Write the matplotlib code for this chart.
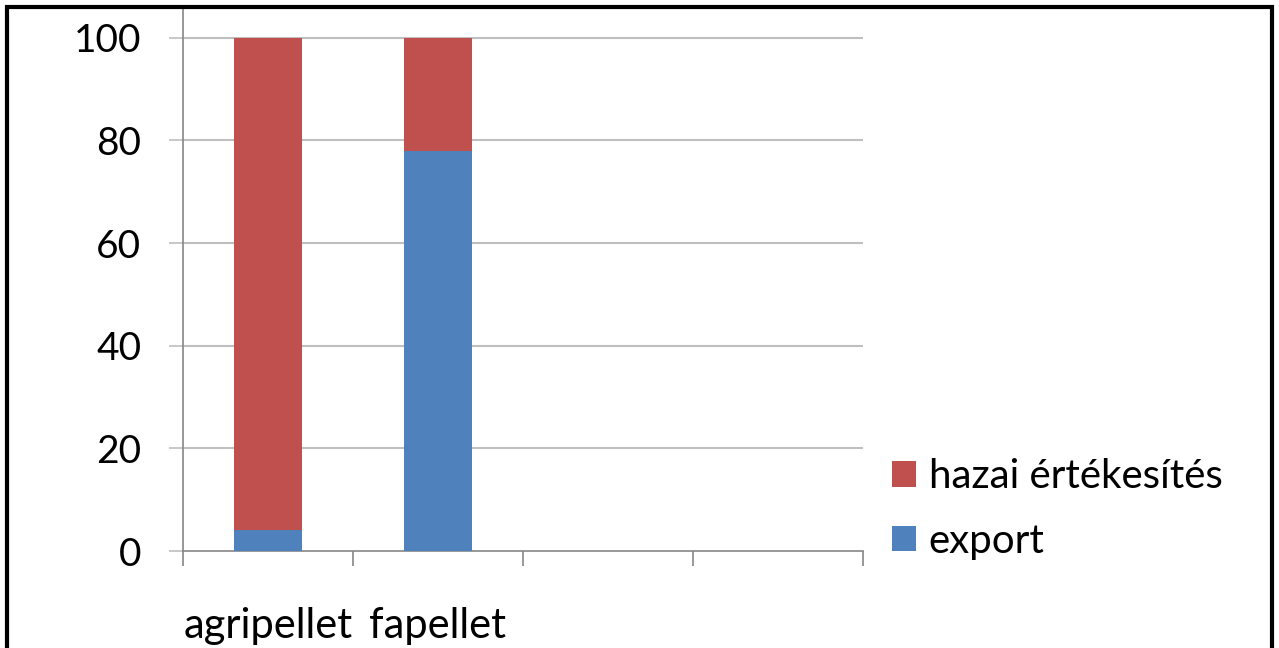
import numpy as np
import matplotlib
matplotlib.use('Agg')
import matplotlib.pyplot as plt
from matplotlib.patches import Rectangle

categories = ['agripellet', 'fapellet', '', '']
export = [4, 78, 0, 0]
hazai = [96, 22, 0, 0]
series_names = ['hazai értékesítés', 'export']

plt.rcParams['font.family'] = ['Lato', 'DejaVu Sans']

fig = plt.figure(figsize=(12.79, 6.48), dpi=100)
ax = fig.add_axes([183 / 1279, 1 - 551 / 648, 680 / 1279, 544 / 648])

x = np.arange(1, len(categories) + 1)
b_exp = ax.bar(x, export, width=0.4, color='#4F81BD', label=series_names[1], zorder=3)
b_haz = ax.bar(x, hazai, width=0.4, bottom=export, color='#C0504D', label=series_names[0], zorder=3)

ax.set_xlim(0.5, len(categories) + 0.5)
ax.set_ylim(0, 106)
ax.set_yticks(np.arange(0, 101, 20))
for y in np.arange(20, 101, 20):
    ax.axhline(y, color='#BFBFBF', lw=1.5, zorder=1)

ax.set_xticks(x[:2])
ax.set_xticklabels(categories[:2])
ax.set_xticks(np.arange(0.5, len(categories) + 1), minor=True)
ax.tick_params(axis='x', which='major', length=0, pad=40, labelsize=30)
ax.tick_params(axis='x', which='minor', length=11, width=1.2, color='#868686')
ax.tick_params(axis='y', length=10, width=1.2, color='#BFBFBF', pad=20, labelsize=28)

for s in ['top', 'right']:
    ax.spines[s].set_visible(False)
for s in ['left', 'bottom']:
    ax.spines[s].set_color('#868686')
    ax.spines[s].set_linewidth(1.2)

ax.legend(handles=[b_haz, b_exp], loc='center left', bbox_to_anchor=(-0.01 + 1, 0.077),
          frameon=False, fontsize=29, handlelength=0.58, handleheight=0.58,
          handletextpad=0.32, labelspacing=0.69)

fig.patches.append(Rectangle((6.5 / 1279, -0.1), 1265.5 / 1279, 1.1 - 7 / 648,
                             transform=fig.transFigure, fill=False, lw=3, ec='black'))

fig.savefig('out.png', dpi=100)
